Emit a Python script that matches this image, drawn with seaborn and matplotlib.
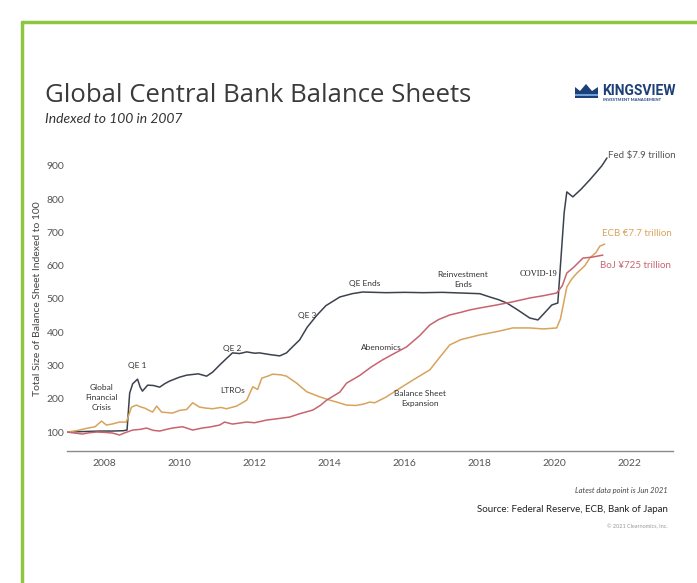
import numpy as np
import pandas as pd
import seaborn as sns
import matplotlib.pyplot as plt
from matplotlib.lines import Line2D
from matplotlib.patches import Polygon

# values (year, index level, 2007 = 100)
fed_years = [2007.0, 2007.3, 2007.6, 2007.9, 2008.2, 2008.5, 2008.6, 2008.67, 2008.75, 2008.88,
             2008.95, 2009.01, 2009.15, 2009.3, 2009.47, 2009.6, 2009.73, 2010.0, 2010.19, 2010.5,
             2010.72, 2010.88, 2011.1, 2011.41, 2011.6, 2011.79, 2012.0, 2012.13, 2012.4, 2012.67,
             2012.85, 2013.0, 2013.2, 2013.4, 2013.65, 2013.9, 2014.27, 2014.6, 2014.88, 2015.5,
             2016.0, 2016.5, 2017.0, 2017.5, 2018.0, 2018.27, 2018.5, 2018.72, 2019.0, 2019.33,
             2019.55, 2019.7, 2019.92, 2020.08, 2020.15, 2020.25, 2020.32, 2020.48, 2020.7, 2020.93,
             2021.1, 2021.25, 2021.39]
fed_values = [100, 101, 102, 103, 103, 104, 106, 217, 245, 259,
              235, 223, 241, 240, 235, 245, 253, 265, 271, 275,
              268, 280, 305, 338, 336, 341, 337, 338, 333, 329,
              338, 355, 377, 415, 450, 480, 506, 516, 521, 519,
              520, 519, 520, 518, 516, 506, 498, 488, 468, 443,
              437, 455, 482, 488, 600, 760, 822, 807, 830, 858,
              880, 900, 924]

ecb_years = [2007.0, 2007.25, 2007.52, 2007.75, 2007.92, 2008.05, 2008.2, 2008.4, 2008.58, 2008.72,
             2008.85, 2008.95, 2009.07, 2009.28, 2009.39, 2009.52, 2009.81, 2010.0, 2010.19, 2010.35,
             2010.53, 2010.7, 2010.88, 2011.1, 2011.25, 2011.52, 2011.79, 2011.95, 2012.08, 2012.19,
             2012.35, 2012.48, 2012.7, 2012.85, 2013.12, 2013.39, 2013.73, 2014.0, 2014.19, 2014.45,
             2014.7, 2014.9, 2015.07, 2015.2, 2015.5, 2015.79, 2016.2, 2016.67, 2016.9, 2017.2,
             2017.5, 2018.0, 2018.5, 2018.88, 2019.33, 2019.7, 2020.05, 2020.15, 2020.32, 2020.45,
             2020.59, 2020.8, 2020.93, 2021.1, 2021.2, 2021.33]
ecb_values = [100, 104, 111, 116, 133, 121, 124, 130, 130, 175,
              181, 176, 172, 160, 178, 160, 157, 165, 168, 188,
              175, 172, 170, 174, 170, 178, 196, 236, 228, 262,
              268, 274, 272, 268, 247, 221, 206, 196, 190, 181,
              180, 184, 190, 188, 205, 226, 255, 287, 320, 362,
              378, 392, 403, 413, 413, 410, 413, 440, 536, 560,
              578, 600, 623, 640, 659, 665]

boj_years = [2007.0, 2007.2, 2007.41, 2007.6, 2007.79, 2008.0, 2008.21, 2008.4, 2008.55, 2008.75,
             2008.95, 2009.12, 2009.3, 2009.47, 2009.65, 2009.81, 2010.08, 2010.35, 2010.6, 2010.8,
             2011.07, 2011.2, 2011.41, 2011.6, 2011.79, 2012.0, 2012.32, 2012.6, 2012.93, 2013.2,
             2013.55, 2013.75, 2013.92, 2014.27, 2014.45, 2014.8, 2015.1, 2015.41, 2015.7, 2016.05,
             2016.4, 2016.67, 2016.9, 2017.2, 2017.5, 2017.73, 2018.0, 2018.45, 2018.9, 2019.33,
             2019.7, 2020.05, 2020.2, 2020.32, 2020.5, 2020.75, 2021.0, 2021.28]
boj_values = [100, 97, 94, 98, 100, 99, 97, 91, 98, 106,
              108, 112, 105, 103, 108, 112, 116, 106, 112, 115,
              121, 130, 124, 127, 130, 128, 136, 140, 145, 155,
              166, 180, 196, 220, 247, 270, 295, 317, 335, 356,
              390, 422, 438, 452, 460, 467, 473, 482, 492, 503,
              510, 518, 540, 578, 595, 623, 626, 632]

x_ticks = [2008, 2010, 2012, 2014, 2016, 2018, 2020, 2022]
y_ticks = [100, 200, 300, 400, 500, 600, 700, 800, 900]

# event notes: (text, year, level)
events = [
    ("Global\nFinancial\nCrisis", 2007.92, 205),
    ("QE 1", 2008.88, 301),
    ("QE 2", 2011.41, 350),
    ("LTROs", 2011.41, 226),
    ("QE 3", 2013.41, 449),
    ("QE Ends", 2014.93, 548),
    ("Reinvestment\nEnds", 2017.55, 560),
    ("Abenomics", 2015.39, 353),
    ("Balance Sheet\nExpansion", 2016.4, 202),
]

FED_C = "#3c424d"
ECB_C = "#d8a35c"
BOJ_C = "#c7646f"
GREEN = "#8dc641"

sns.set_style("white")
plt.rcParams['font.family'] = ['Lato', 'DejaVu Sans']

W, H = 697, 583
fig = plt.figure(figsize=(W / 100, H / 100), dpi=100)

def fx(px):
    return px / W

def fy(py):
    return 1 - py / H

ax = fig.add_axes([fx(67), fy(451), fx(673) - fx(67), fy(146) - fy(451)])

sns.lineplot(x=fed_years, y=fed_values, color=FED_C, lw=1.1, ax=ax)
sns.lineplot(x=ecb_years, y=ecb_values, color=ECB_C, lw=1.1, ax=ax)
sns.lineplot(x=boj_years, y=boj_values, color=BOJ_C, lw=1.1, ax=ax)

ax.set_xlim(2007.0, 2023.15)
ax.set_ylim(43, 960)
ax.set_xticks(x_ticks)
ax.set_yticks(y_ticks)
ax.tick_params(axis='both', length=0, labelsize=7.5, labelcolor="#555555")
ax.tick_params(axis='y', pad=2)
ax.tick_params(axis='x', pad=6)
for s in ['top', 'right', 'left']:
    ax.spines[s].set_visible(False)
ax.spines['bottom'].set_color("#8a8a8a")
ax.spines['bottom'].set_linewidth(1.0)
ax.set_xlabel("")
ax.set_ylabel("Total Size of Balance Sheet Indexed to 100", fontsize=7.5, color="#444444", labelpad=3)

for txt, xv, yv in events:
    ax.text(xv, yv, txt, fontsize=6, color="#333333", ha="center", va="center", linespacing=1.5)
ax.text(2019.57, 575, "COVID-19", fontsize=6, color="#222222", ha="center", va="center",
        family="Liberation Serif")

ax.text(fed_years[-1] + 0.02, 930, "Fed $7.9 trillion", fontsize=7, color="#555555", ha="left", va="center")
ax.text(2021.25, 696, "ECB €7.7 trillion", fontsize=7, color=ECB_C, ha="left", va="center")
ax.text(2021.2, 602, "BoJ ¥725 trillion", fontsize=7, color=BOJ_C, ha="left", va="center")

# titles
fig.text(fx(45), fy(96), "Global Central Bank Balance Sheets", fontsize=18.5, color="#3a3a3a",
         ha="left", va="center", family="Open Sans")
fig.text(fx(45), fy(119), "Indexed to 100 in 2007", fontsize=10, color="#333333",
         ha="left", va="center", style="italic")

# footer
fig.text(fx(668), fy(490), "Latest data point is Jun 2021", fontsize=5.5, color="#444444",
         ha="right", va="center", style="italic")
fig.text(fx(668), fy(509), "Source: Federal Reserve, ECB, Bank of Japan", fontsize=7, color="#222222",
         ha="right", va="center")
fig.text(fx(668), fy(527), "© 2021 Clearnomics, Inc.", fontsize=4, color="#999999",
         ha="right", va="center")

# logo
crown = [(575, 98), (575, 87), (580, 91), (586, 84), (592, 91), (598, 87), (598, 98)]
fig.add_artist(Polygon([(fx(a), fy(b)) for a, b in crown], closed=True, transform=fig.transFigure,
                       facecolor="#1d3f78", edgecolor="none"))
fig.add_artist(Polygon([(fx(a), fy(b)) for a, b in [(575, 94), (598, 94), (598, 95.5), (575, 95.5)]],
                       closed=True, transform=fig.transFigure, facecolor="#6fa0d8", edgecolor="none"))
fig.text(fx(602), fy(91), "KINGSVIEW", fontsize=10, color="#1d3f78", ha="left", va="center",
         fontweight="bold", family="Roboto")
fig.text(fx(603), fy(100), "INVESTMENT MANAGEMENT", fontsize=3, color="#1d3f78", ha="left", va="center",
         fontweight="bold")

# green frame
fig.add_artist(Line2D([fx(22), fx(22)], [fy(22), 0], transform=fig.transFigure, color=GREEN, lw=2.5))
fig.add_artist(Line2D([fx(22), 1], [fy(22), fy(22)], transform=fig.transFigure, color=GREEN, lw=2.5))

fig.savefig("out.png", dpi=100)
